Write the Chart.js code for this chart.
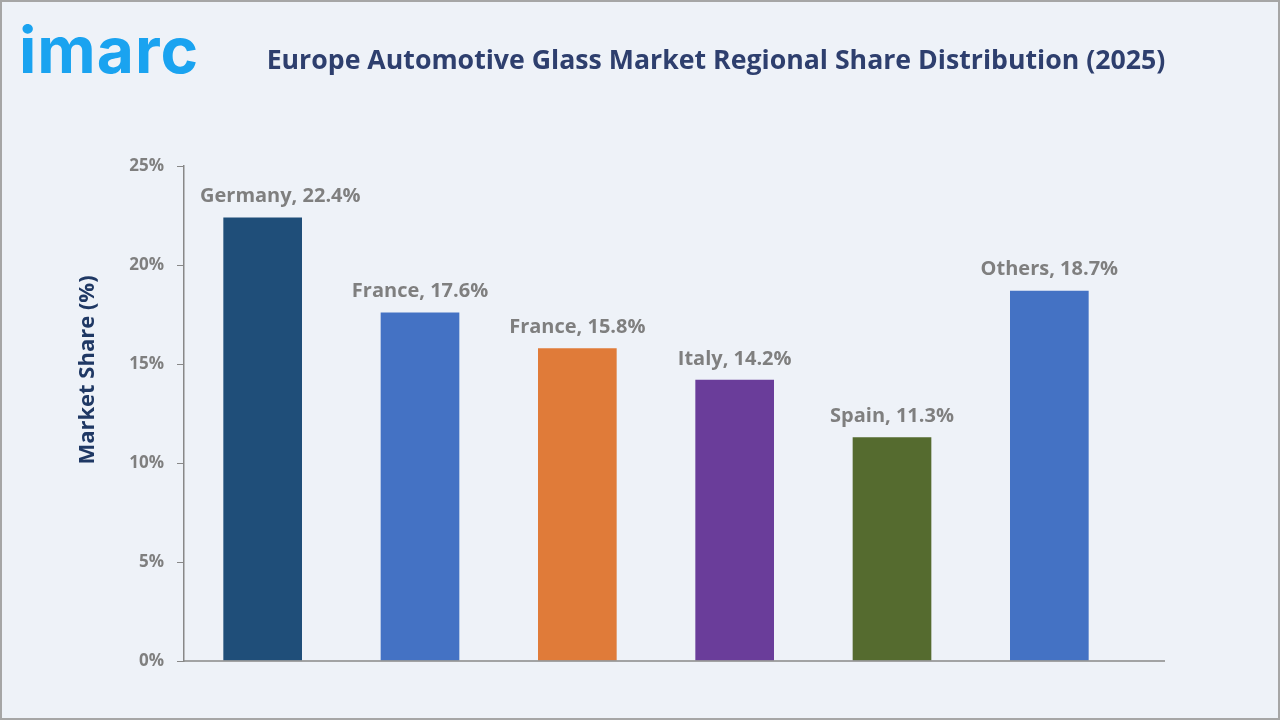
<!DOCTYPE html>
<html>
<head>
<meta charset="utf-8">
<script src="https://cdn.jsdelivr.net/npm/chart.js@4"></script>
<style>
  html, body { margin: 0; padding: 0; }
  body { width: 1280px; height: 720px; background: #eef2f8; position: relative; overflow: hidden; }
  #frame { position: absolute; left: 0; top: 0; width: 1276px; height: 716px; border: 2px solid #a6a6a6; pointer-events: none; }
  #logo { position: absolute; left: 19px; top: 11px; font-family: "Inter", "Roboto", sans-serif; font-weight: 700; font-size: 64px; color: #1aa3f0; letter-spacing: 1px; }
  #title { position: absolute; left: 216px; top: 40px; width: 1000px; text-align: center; font-family: "Open Sans", sans-serif; font-weight: 700; font-size: 26.7px; color: #2e3f6e; white-space: nowrap; }
  #wrap { position: absolute; left: 0; top: 0; width: 1280px; height: 720px; }
</style>
</head>
<body>
<div id="wrap"><canvas id="myChart" width="1280" height="720"></canvas></div>
<div id="logo">imarc</div>
<div id="title">Europe Automotive Glass Market Regional Share Distribution (2025)</div>
<div id="frame"></div>
<script>
// data
var regions = ["Germany", "France", "France", "Italy", "Spain", "Others"];
var shares = [22.4, 17.6, 15.8, 14.2, 11.3, 18.7];
var barColors = ["#1f4e79", "#4472c4", "#e07b39", "#6a3d9a", "#556b2f", "#4472c4"];
var yTicks = [0, 5, 10, 15, 20, 25];

// labels above bars + y title + long baseline
var extras = {
  id: "extras",
  afterDatasetsDraw: function(chart) {
    var ctx = chart.ctx;
    var area = chart.chartArea;
    var meta = chart.getDatasetMeta(0);
    ctx.save();
    ctx.font = "bold 20px 'Open Sans', sans-serif";
    ctx.fillStyle = "#7f7f7f";
    ctx.textAlign = "center";
    ctx.textBaseline = "middle";
    meta.data.forEach(function(bar, i) {
      var txt = regions[i] + ", " + shares[i].toFixed(1) + "%";
      var w = ctx.measureText(txt).width;
      // keep label clear of the y axis
      var x = Math.max(bar.x, area.left + 16 + w / 2);
      ctx.fillText(txt, x, bar.y - 21);
    });
    // baseline
    ctx.strokeStyle = "#888888";
    ctx.lineWidth = 1.5;
    ctx.beginPath();
    ctx.moveTo(area.left, area.bottom);
    ctx.lineTo(1165, area.bottom);
    ctx.stroke();
    // y title
    ctx.translate(88, 370);
    ctx.rotate(-Math.PI / 2);
    ctx.font = "bold 22px 'Open Sans', sans-serif";
    ctx.fillStyle = "#1f3864";
    ctx.fillText("Market Share (%)", 0, 0);
    ctx.restore();
  }
};

new Chart("myChart", {
  type: "bar",
  data: {
    labels: regions,
    datasets: [{
      data: shares,
      backgroundColor: barColors,
      barPercentage: 0.5,
      categoryPercentage: 1
    }]
  },
  options: {
    responsive: false,
    animation: false,
    layout: { padding: { left: 0, top: 166, right: 152, bottom: 51 } },
    plugins: {
      legend: { display: false },
      tooltip: { enabled: false }
    },
    scales: {
      x: {
        grid: { display: false },
        border: { display: false },
        ticks: { display: false }
      },
      y: {
        min: 0,
        max: 25,
        afterFit: function(scale) { scale.width = 184; },
        afterBuildTicks: function(scale) {
          scale.ticks = yTicks.map(function(v) { return { value: v }; });
        },
        grid: { drawOnChartArea: false, drawTicks: true, tickLength: 7, color: "#888888" },
        border: { display: true, color: "#888888", width: 1.5 },
        ticks: {
          padding: 13,
          color: "#7f7f7f",
          font: { family: "'Open Sans', sans-serif", size: 17, weight: "bold" },
          callback: function(v) { return v + "%"; }
        }
      }
    }
  },
  plugins: [extras]
});
</script>
</body>
</html>
